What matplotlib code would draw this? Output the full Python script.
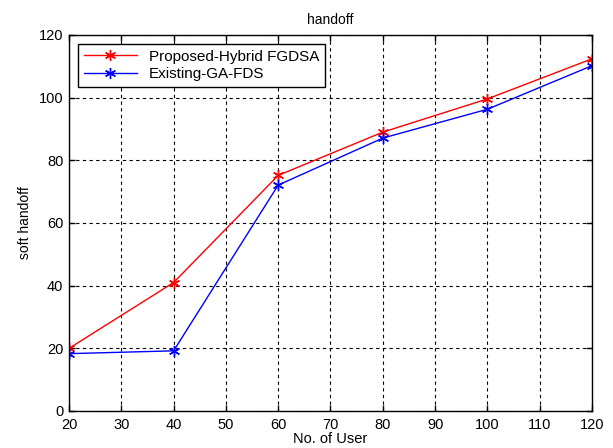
import matplotlib
matplotlib.use("Agg")
import matplotlib.pyplot as plt

users = [20, 40, 60, 80, 100, 120]
proposed = [20, 41, 75.2, 89, 99.6, 112.4]
existing = [18.3, 19.2, 72.1, 87.1, 96.3, 110.2]
xticks = [20, 30, 40, 50, 60, 70, 80, 90, 100, 110, 120]
yticks = [0, 20, 40, 60, 80, 100, 120]

plt.rcParams['font.family'] = ['Liberation Sans', 'DejaVu Sans']
fig = plt.figure(figsize=(6.13, 4.48), dpi=100)
ax = fig.add_axes([0.1126, 0.0826, 0.8531, 0.8393])
ax.plot(users, proposed, color='red', marker=(6, 2, 0), markersize=8, markeredgewidth=1,
        linewidth=1, label='Proposed-Hybrid FGDSA')
ax.plot(users, existing, color='blue', marker=(6, 2, 0), markersize=8, markeredgewidth=1,
        linewidth=1, label='Existing-GA-FDS')
ax.set_xlim(20, 120)
ax.set_ylim(0, 120)
ax.set_xticks(xticks)
ax.set_yticks(yticks)
ax.tick_params(direction='in', top=True, right=True, labelsize=10.5, length=4, width=1)
ax.tick_params(axis='x', pad=5)
ax.tick_params(axis='y', pad=4)
ax.grid(True, linestyle=(0, (3, 3)), color='black', linewidth=0.8)
for s in ax.spines.values():
    s.set_linewidth(1)
ax.set_title('handoff', fontsize=10, pad=8)
ax.set_xlabel('No. of User', fontsize=10.5, labelpad=0)
ax.set_ylabel('soft handoff', fontsize=10, labelpad=5)
leg = ax.legend(loc='upper left', fontsize=11, fancybox=False, edgecolor='black',
                framealpha=1, borderaxespad=0.6, handlelength=3.5, labelspacing=0.25,
                borderpad=0.35)
leg.get_frame().set_linewidth(1)
fig.savefig('out.png', dpi=100)
